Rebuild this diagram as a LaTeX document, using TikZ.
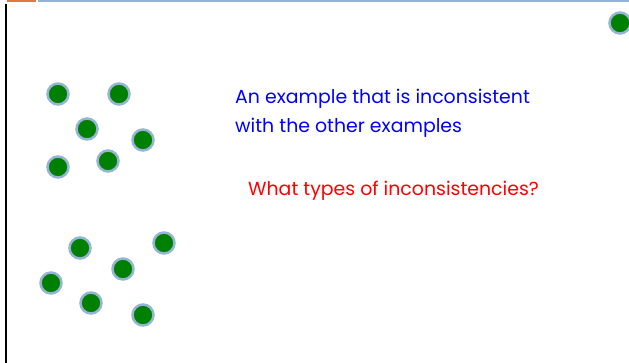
\documentclass[tikz,border=0pt]{standalone}
\usepackage{fontspec}
\setmainfont{Poppins}
\usepackage{tikz}
\usetikzlibrary{positioning}
\definecolor{dotgreen}{RGB}{0,128,0}
\definecolor{dotrim}{RGB}{150,180,212}
\definecolor{barblue}{RGB}{149,179,215}
\definecolor{barorange}{RGB}{224,120,64}

\begin{document}
\begin{tikzpicture}[x=1pt, y=-1pt,
      dot/.style={circle, draw=dotrim, line width=2.5pt, fill=dotgreen, minimum size=21pt, inner sep=0pt},
      note/.style={anchor=base west, inner sep=0pt, font=\fontsize{18.9}{29}\selectfont, align=left}]
      \useasboundingbox (0,0) rectangle (629,363);
      \begin{scope}
      \clip (0,0) rectangle (629,363);
      % frame of the slide
      \fill[barorange] (7,0) rectangle (36,2.4);
      \fill[barblue] (38,0) rectangle (629,2.4);
      \fill[black] (5,4) rectangle (7.2,363);
      % upper group
      \node[dot] (u1) at (58,94)  {};
      \node[dot] (u2) at (119,94) {};
      \node[dot] (u3) at (87,129) {};
      \node[dot] (u4) at (143,140) {};
      \node[dot] (u5) at (58,167) {};
      \node[dot] (u6) at (108,161) {};
      % lower group
      \node[dot] (l1) at (80,248) {};
      \node[dot] (l2) at (164,243) {};
      \node[dot] (l3) at (123,269) {};
      \node[dot] (l4) at (51,283) {};
      \node[dot] (l5) at (91,303) {};
      \node[dot] (l6) at (143,315) {};
      % the odd one
      \node[dot] (odd) at (620,23) {};
      \end{scope}
      \node[note, text=blue] (txt1) at (235,133) {An example that is inconsistent\\with the other examples};
      \node[note, text=red] (txt2) at (248,196) {What types of inconsistencies?};
    \end{tikzpicture}
\end{document}
